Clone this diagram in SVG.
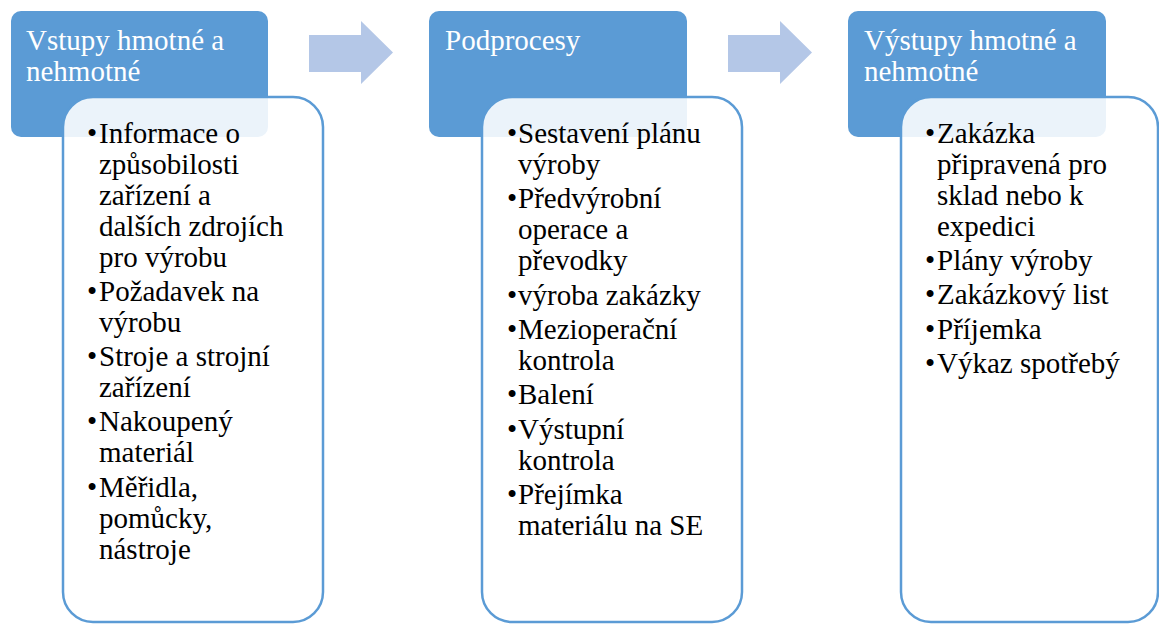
<svg xmlns="http://www.w3.org/2000/svg" width="1159" height="624" viewBox="0 0 1159 624">
<style>
.hdr{fill:#5B9BD5;}
.box{fill:#FFFFFF;fill-opacity:0.88;stroke:#5B9BD5;stroke-width:2.5;}
.arr{fill:#B4C7E7;}
</style>
<rect width="1159" height="624" fill="#FFFFFF"/>
<g id="connectors">
<path class="arr" d="M309,35 H361 V21 L393,52.5 L361,84 V72 H309 Z"/>
<path class="arr" d="M728,35 H780 V21 L812,52.5 L780,84 V72 H728 Z"/>
</g>
<g id="node-inputs">
<rect class="hdr" x="11" y="11" width="257" height="126" rx="10"/>
<text font-family="Liberation Serif, serif" font-size="29" fill="#FFFFFF"><tspan x="26" y="50">Vstupy hmotné a</tspan><tspan x="26" y="81">nehmotné</tspan></text>
<rect class="box" x="63" y="97" width="260" height="525" rx="30"/>
<text font-family="Liberation Serif, serif" font-size="29" fill="#000000">
<tspan x="87" y="143">•</tspan><tspan x="99" y="143">Informace o</tspan>
<tspan x="99" y="174">způsobilosti</tspan>
<tspan x="99" y="205">zařízení a</tspan>
<tspan x="99" y="236">dalších zdrojích</tspan>
<tspan x="99" y="267">pro výrobu</tspan>
<tspan x="87" y="301">•</tspan><tspan x="99" y="301">Požadavek na</tspan>
<tspan x="99" y="332">výrobu</tspan>
<tspan x="87" y="366">•</tspan><tspan x="99" y="366">Stroje a strojní</tspan>
<tspan x="99" y="397">zařízení</tspan>
<tspan x="87" y="431">•</tspan><tspan x="99" y="431">Nakoupený</tspan>
<tspan x="99" y="462">materiál</tspan>
<tspan x="87" y="497">•</tspan><tspan x="99" y="497">Měřidla,</tspan>
<tspan x="99" y="528">pomůcky,</tspan>
<tspan x="99" y="559">nástroje</tspan>
</text>
</g>
<g id="node-subprocesses">
<rect class="hdr" x="429" y="11" width="258" height="126" rx="10"/>
<text font-family="Liberation Serif, serif" font-size="29" fill="#FFFFFF"><tspan x="445" y="50">Podprocesy</tspan></text>
<rect class="box" x="482" y="97" width="260" height="525" rx="30"/>
<text font-family="Liberation Serif, serif" font-size="29" fill="#000000">
<tspan x="507" y="143">•</tspan><tspan x="518" y="143">Sestavení plánu</tspan>
<tspan x="518" y="174">výroby</tspan>
<tspan x="507" y="208">•</tspan><tspan x="518" y="208">Předvýrobní</tspan>
<tspan x="518" y="239">operace a</tspan>
<tspan x="518" y="270">převodky</tspan>
<tspan x="507" y="305">•</tspan><tspan x="518" y="305">výroba zakázky</tspan>
<tspan x="507" y="339">•</tspan><tspan x="518" y="339">Mezioperační</tspan>
<tspan x="518" y="370">kontrola</tspan>
<tspan x="507" y="404">•</tspan><tspan x="518" y="404">Balení</tspan>
<tspan x="507" y="439">•</tspan><tspan x="518" y="439">Výstupní</tspan>
<tspan x="518" y="470">kontrola</tspan>
<tspan x="507" y="504">•</tspan><tspan x="518" y="504">Přejímka</tspan>
<tspan x="518" y="535">materiálu na SE</tspan>
</text>
</g>
<g id="node-outputs">
<rect class="hdr" x="848" y="11" width="258" height="126" rx="10"/>
<text font-family="Liberation Serif, serif" font-size="29" fill="#FFFFFF"><tspan x="864" y="50">Výstupy hmotné a</tspan><tspan x="864" y="81">nehmotné</tspan></text>
<rect class="box" x="901" y="97" width="257" height="525" rx="30"/>
<text font-family="Liberation Serif, serif" font-size="29" fill="#000000">
<tspan x="925" y="143">•</tspan><tspan x="937" y="143">Zakázka</tspan>
<tspan x="937" y="174">připravená pro</tspan>
<tspan x="937" y="205">sklad nebo k</tspan>
<tspan x="937" y="236">expedici</tspan>
<tspan x="925" y="270">•</tspan><tspan x="937" y="270">Plány výroby</tspan>
<tspan x="925" y="304">•</tspan><tspan x="937" y="304">Zakázkový list</tspan>
<tspan x="925" y="339">•</tspan><tspan x="937" y="339">Příjemka</tspan>
<tspan x="925" y="373">•</tspan><tspan x="937" y="373">Výkaz spotřebý</tspan>
</text>
</g>
</svg>
